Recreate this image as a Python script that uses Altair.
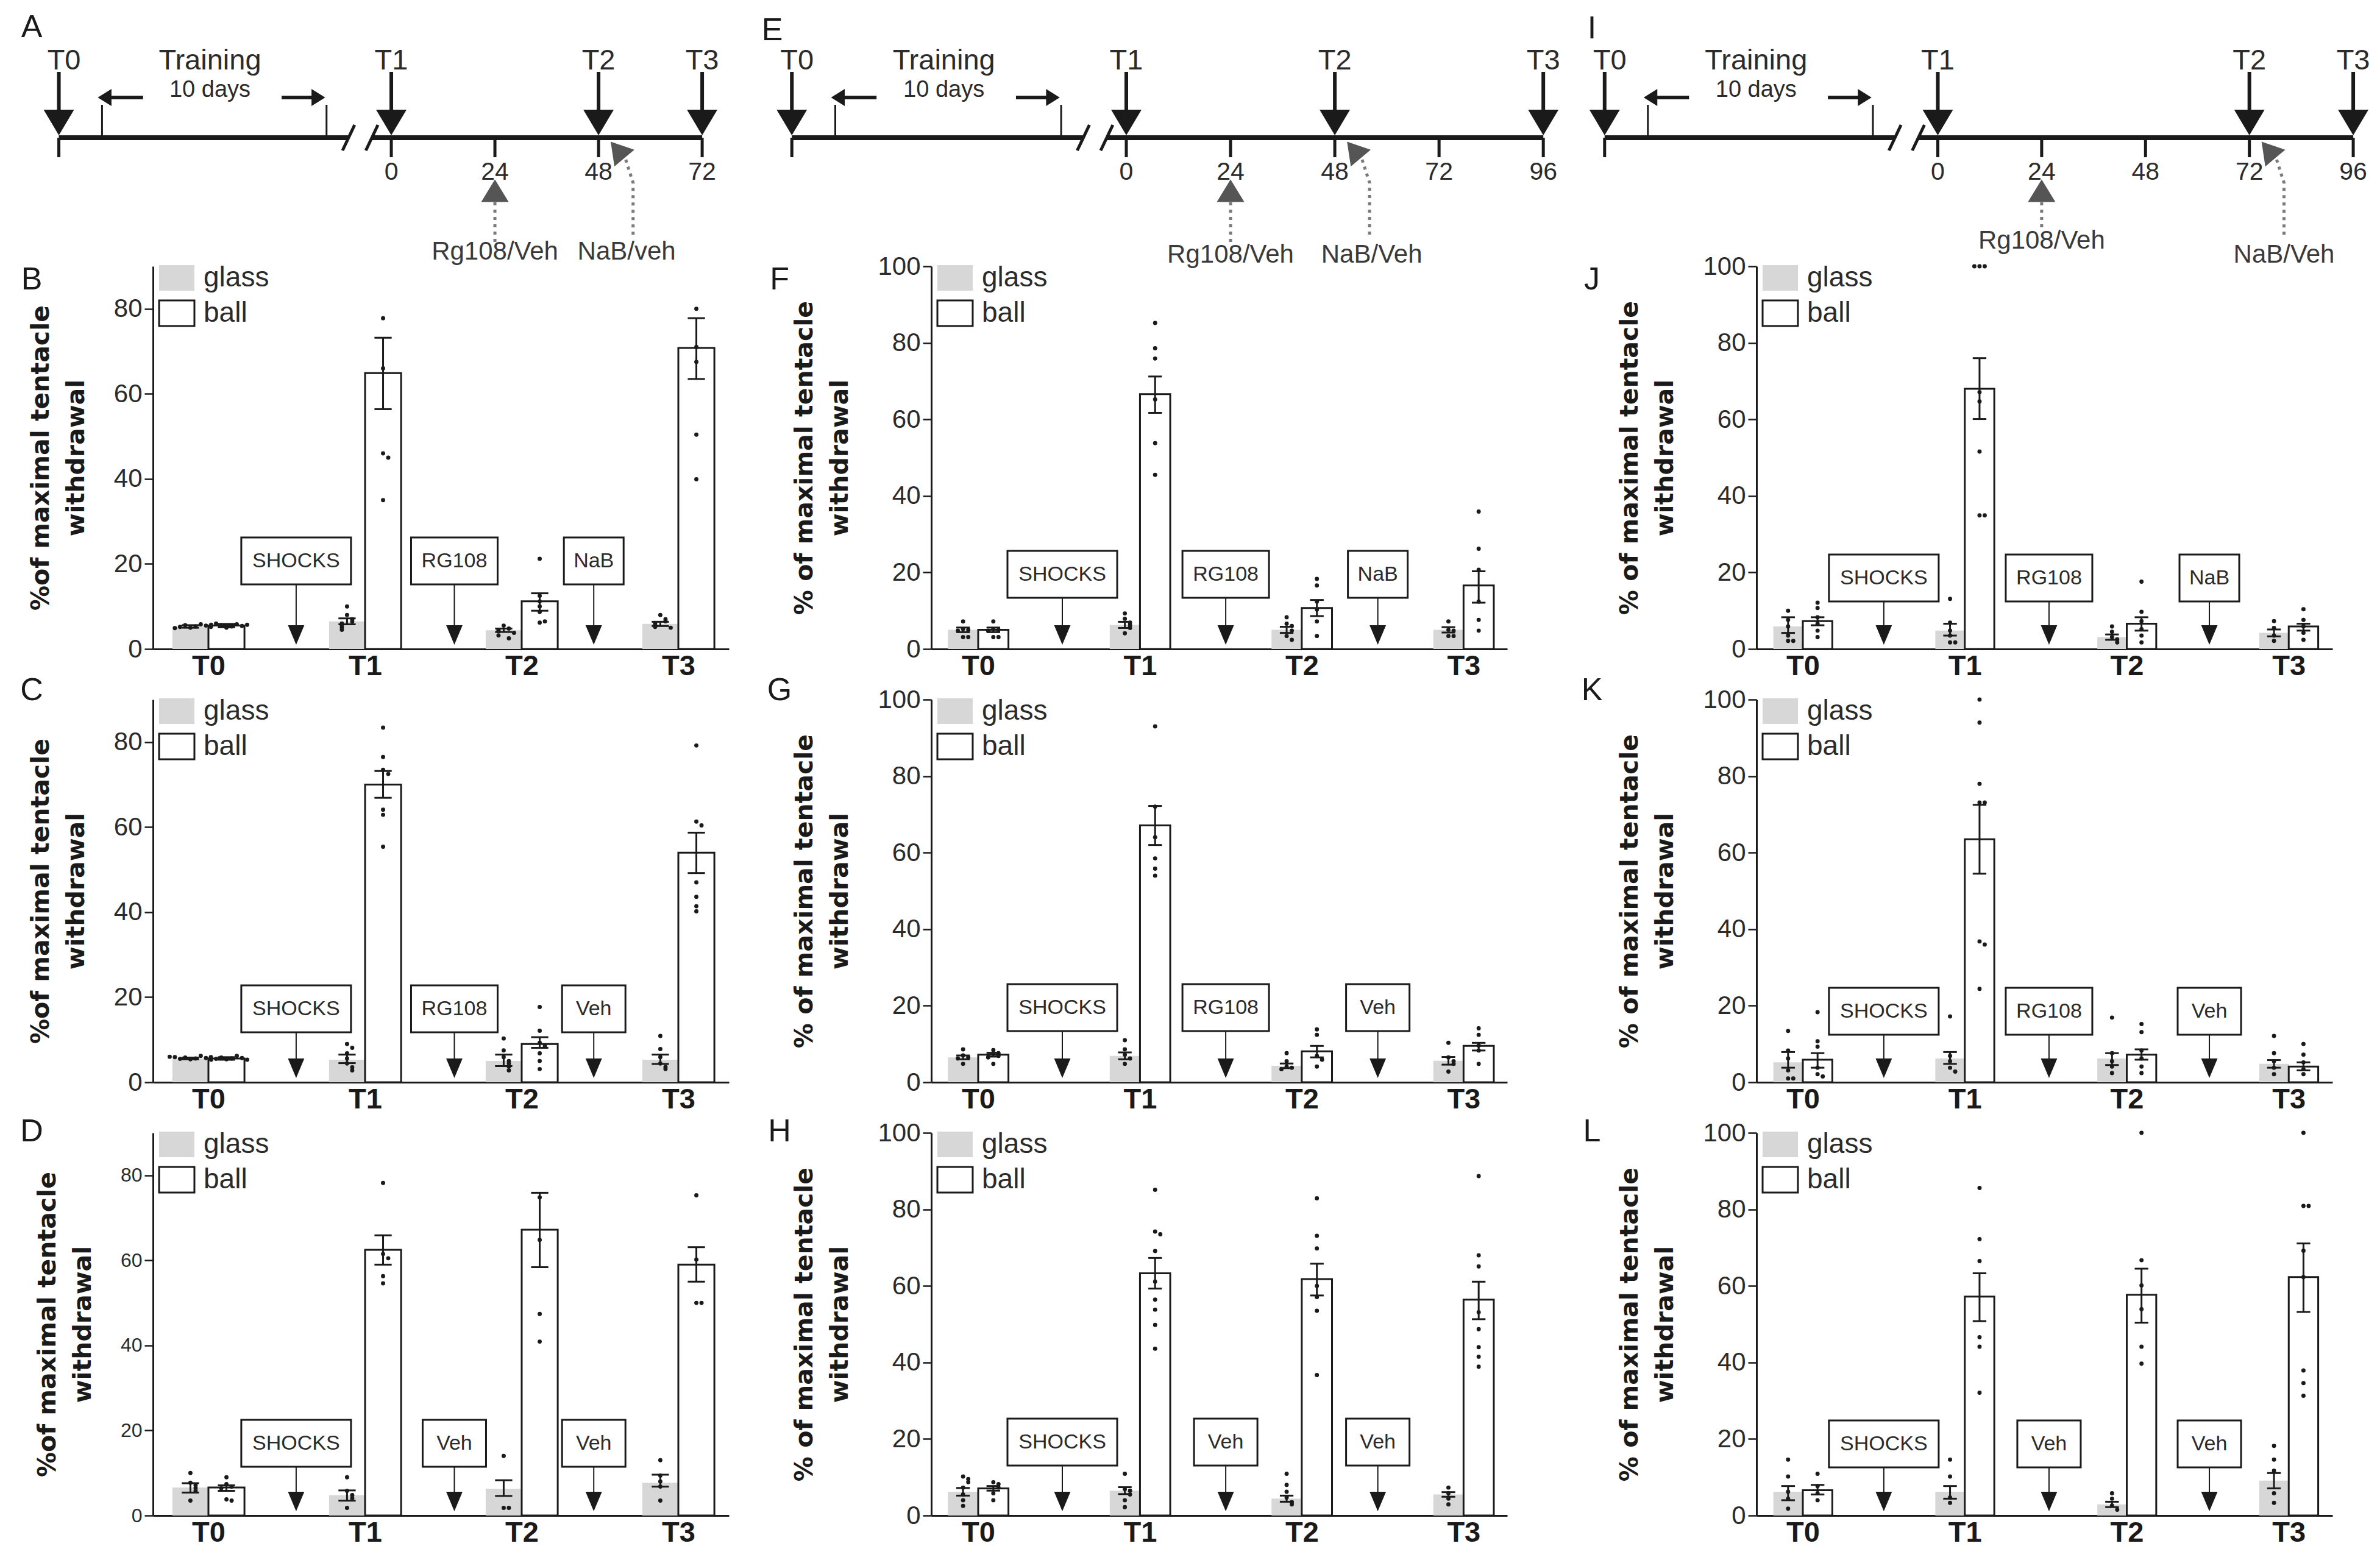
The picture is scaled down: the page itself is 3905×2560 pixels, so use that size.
import altair as alt
import pandas as pd

# ===================== DATA =====================
GROUPS = ["T0", "T1", "T2", "T3"]
SERIES = ["glass", "ball"]

# ---- Panel B ----
B_glass_mean = [5.3, 6.5, 4.4, 5.9]
B_glass_lo = [5.0, 5.8, 4.0, 5.4]
B_glass_hi = [5.6, 7.2, 4.8, 6.4]
B_ball_mean = [5.5, 64.9, 11.2, 70.8]
B_ball_lo = [5.1, 56.4, 9.0, 63.5]
B_ball_hi = [5.9, 73.2, 13.1, 77.8]
B_glass_dots = [[5.0, 5.3, 5.6, 5.8, 5.2, 5.5, 4.9, 5.7],
                [10.0, 8.0, 7.0, 6.5, 6.0, 5.5, 5.0, 4.5],
                [5.5, 4.8, 4.5, 4.2, 3.8, 3.2, 2.5],
                [8.0, 7.0, 6.5, 6.0, 5.5, 5.2, 5.0]]
B_ball_dots = [[5.0, 5.3, 5.6, 5.8, 6.0, 5.4, 5.2, 5.7],
               [77.8, 66.0, 46.0, 45.0, 35.0],
               [21.2, 12.5, 11.2, 10.0, 8.7, 6.2, 6.5],
               [80.0, 71.0, 67.5, 50.4, 39.9]]
B_boxes = ["SHOCKS", "RG108", "NaB"]

# ---- Panel C ----
C_glass_mean = [5.6, 5.3, 5.0, 5.3]
C_glass_lo = [5.4, 4.5, 3.8, 4.3]
C_glass_hi = [5.8, 6.5, 6.5, 6.5]
C_ball_mean = [5.6, 70.0, 9.0, 54.0]
C_ball_lo = [5.3, 66.9, 8.1, 49.2]
C_ball_hi = [5.9, 73.2, 10.6, 58.7]
C_glass_dots = [[5.4, 5.6, 5.8, 6.2, 5.5, 5.7, 5.9, 5.3, 6.0],
                [9.0, 8.1, 6.8, 5.6, 4.4, 3.5, 2.8],
                [10.3, 7.5, 5.9, 5.0, 4.4, 3.7, 2.8],
                [10.9, 7.8, 5.9, 4.4, 3.6, 3.1]]
C_ball_dots = [[5.4, 5.6, 5.8, 6.2, 5.5, 5.7, 5.9, 5.3],
               [83.4, 76.5, 73.5, 72.5, 64.1, 62.9, 55.4],
               [17.7, 12.1, 9.3, 8.5, 6.8, 5.0, 3.1],
               [79.2, 61.3, 60.4, 47.0, 43.6, 41.4, 40.2]]
C_boxes = ["SHOCKS", "RG108", "Veh"]

# ---- Panel D ----
D_glass_mean = [6.6, 4.8, 6.3, 7.7]
D_glass_lo = [5.4, 3.5, 4.6, 6.8]
D_glass_hi = [7.6, 5.9, 8.3, 9.6]
D_ball_mean = [6.6, 62.5, 67.2, 59.0]
D_ball_lo = [5.8, 59.0, 58.4, 55.0]
D_ball_hi = [7.1, 65.9, 75.9, 63.1]
D_glass_dots = [[10.0, 7.7, 7.1, 6.5, 5.8, 3.5],
                [9.0, 5.8, 4.8, 4.1, 1.8],
                [14.0, 1.8, 1.8],
                [13.0, 9.4, 8.0, 6.8, 3.5]]
D_ball_dots = [[9.0, 7.4, 6.8, 6.4, 3.8, 3.5],
               [78.2, 61.5, 60.5, 56.3, 54.6],
               [74.8, 64.8, 47.4, 40.9],
               [75.3, 60.2, 50.0, 50.0]]
D_boxes = ["SHOCKS", "Veh", "Veh"]

# ---- Panel F ----
F_glass_mean = [5.0, 6.3, 5.0, 5.0]
F_glass_lo = [4.4, 5.5, 4.2, 4.3]
F_glass_hi = [5.6, 7.1, 5.8, 5.7]
F_ball_mean = [5.0, 66.6, 10.7, 16.6]
F_ball_lo = [4.4, 61.7, 8.6, 12.1]
F_ball_hi = [5.6, 71.2, 12.8, 20.3]
F_glass_dots = [[7.2, 5.2, 5.0, 4.8, 3.1, 3.1],
                [9.3, 7.9, 6.9, 6.2, 5.5, 4.1],
                [8.3, 6.6, 6.0, 4.8, 3.4, 2.4],
                [7.2, 5.0, 4.8, 3.4, 3.4]]
F_ball_dots = [[7.2, 5.2, 5.0, 4.8, 3.1, 3.1],
               [85.2, 78.6, 75.9, 65.2, 53.8, 45.5],
               [18.3, 16.6, 12.4, 10.3, 7.2, 3.4],
               [35.9, 26.2, 20.7, 12.4, 7.6, 4.8]]
F_boxes = ["SHOCKS", "RG108", "NaB"]

# ---- Panel G ----
G_glass_mean = [6.5, 6.9, 4.3, 5.6]
G_glass_lo = [6.0, 6.0, 3.7, 4.6]
G_glass_hi = [7.0, 7.8, 4.9, 6.6]
G_ball_mean = [7.2, 67.1, 8.1, 9.5]
G_ball_lo = [6.7, 62.0, 6.5, 8.3]
G_ball_hi = [7.7, 72.2, 9.5, 10.3]
G_glass_dots = [[8.6, 7.0, 6.5, 6.2, 4.8],
                [11.0, 8.6, 7.2, 6.2, 4.8],
                [7.6, 5.5, 4.1, 3.8, 3.4],
                [10.3, 6.5, 5.5, 4.8, 2.8]]
G_ball_dots = [[8.4, 7.6, 6.9, 6.5, 4.8],
               [93.0, 72.0, 64.0, 58.5, 55.8, 54.0],
               [13.8, 12.4, 6.9, 5.9, 4.1],
               [14.1, 12.4, 9.6, 8.3, 4.8]]
G_boxes = ["SHOCKS", "RG108", "Veh"]

# ---- Panel H ----
H_glass_mean = [6.2, 6.5, 4.4, 5.5]
H_glass_lo = [5.2, 5.6, 3.6, 4.9]
H_glass_hi = [7.2, 7.4, 5.2, 6.1]
H_ball_mean = [7.1, 63.3, 61.8, 56.4]
H_ball_lo = [6.5, 59.3, 57.5, 51.3]
H_ball_hi = [7.7, 67.3, 65.8, 61.1]
H_glass_dots = [[10.2, 9.5, 8.7, 7.3, 5.5, 4.0, 2.5],
                [10.9, 6.9, 6.5, 5.5, 4.0, 2.2],
                [10.9, 8.0, 6.2, 4.7, 3.5, 2.9],
                [7.3, 5.8, 4.4, 2.9]]
H_ball_dots = [[8.7, 8.2, 7.3, 5.8, 4.0],
               [85.1, 74.2, 73.5, 69.1, 61.1, 56.4, 53.8, 49.8, 43.6],
               [82.9, 73.1, 69.8, 60.0, 57.1, 53.5, 36.7],
               [88.7, 68.0, 65.1, 53.1, 48.7, 44.0, 41.5, 38.9]]
H_boxes = ["SHOCKS", "Veh", "Veh"]

# ---- Panel J ----
J_glass_mean = [5.9, 4.8, 3.1, 4.2]
J_glass_lo = [4.2, 3.5, 2.4, 3.3]
J_glass_hi = [8.3, 6.6, 3.8, 5.1]
J_ball_mean = [7.3, 68.0, 6.6, 5.9]
J_ball_lo = [6.2, 60.1, 4.8, 4.8]
J_ball_hi = [8.3, 76.0, 8.3, 6.6]
J_glass_dots = [[10.0, 7.6, 5.9, 3.5, 2.1, 2.1],
                [13.1, 6.9, 4.8, 3.5, 1.7, 1.7],
                [5.9, 4.5, 3.1, 2.5, 1.7],
                [7.3, 5.5, 3.5, 2.1]]
J_ball_dots = [[12.1, 10.7, 8.3, 6.6, 4.8, 3.1],
               [100.0, 100.0, 100.0, 67.1, 64.7, 51.6, 34.9, 34.9],
               [17.6, 9.7, 7.3, 5.2, 3.5, 1.7],
               [10.4, 7.6, 5.9, 4.2, 2.4]]
J_boxes = ["SHOCKS", "RG108", "NaB"]

# ---- Panel K ----
K_glass_mean = [5.2, 6.2, 6.2, 4.8]
K_glass_lo = [3.8, 4.8, 4.5, 3.8]
K_glass_hi = [7.9, 7.9, 7.6, 5.8]
K_ball_mean = [5.9, 63.5, 7.2, 4.1]
K_ball_lo = [3.8, 54.5, 5.9, 3.1]
K_ball_hi = [7.6, 72.5, 8.6, 5.2]
K_glass_dots = [[13.4, 8.3, 6.2, 3.1, 1.0, 1.0],
                [17.2, 6.9, 5.5, 3.8, 2.8],
                [16.9, 7.6, 5.5, 4.1, 2.4],
                [12.1, 7.6, 5.5, 3.8, 2.1]]
K_ball_dots = [[18.3, 10.7, 9.3, 3.8, 2.1, 1.5],
               [100.0, 94.0, 78.0, 73.1, 73.1, 36.8, 36.0, 24.4],
               [15.2, 13.1, 8.3, 6.2, 4.1, 2.4],
               [10.0, 7.2, 5.2, 3.4, 2.1]]
K_boxes = ["SHOCKS", "RG108", "Veh"]

# ---- Panel L ----
L_glass_mean = [6.2, 6.2, 2.9, 9.1]
L_glass_lo = [4.0, 4.4, 2.2, 7.1]
L_glass_hi = [7.7, 7.7, 3.6, 11.1]
L_ball_mean = [6.6, 57.2, 57.7, 62.3]
L_ball_lo = [5.5, 50.8, 50.4, 53.2]
L_ball_hi = [8.0, 63.3, 64.5, 71.1]
L_glass_dots = [[14.6, 10.2, 6.2, 4.4, 1.8],
                [14.6, 10.2, 4.7, 3.3],
                [5.8, 4.4, 2.6, 1.5],
                [18.2, 14.6, 11.7, 5.8, 3.3]]
L_ball_dots = [[10.9, 7.7, 5.8, 4.0],
               [85.6, 72.2, 66.5, 46.6, 44.1, 32.1],
               [100.0, 66.7, 60.1, 53.9, 44.1, 39.7],
               [100.0, 80.9, 80.9, 69.2, 62.3, 37.9, 34.6, 31.3]]
L_boxes = ["SHOCKS", "Veh", "Veh"]

# ---- Timelines (hours after training; T0 precedes the 10-day training) ----
TL_T_LABELS = ["T0", "T1", "T2", "T3"]
A_T_hours = [-77, 0, 48, 72]
E_T_hours = [-77, 0, 48, 96]
I_T_hours = [-77, 0, 72, 96]
A_hour_ticks = [0, 24, 48, 72]
E_hour_ticks = [0, 24, 48, 72, 96]
I_hour_ticks = [0, 24, 48, 72, 96]
TRAINING_EDGES = [-67, -15]
RG_HOUR = 24
RG_LABEL = "Rg108/Veh"
NAB_LABELS = ["NaB/veh", "NaB/Veh", "NaB/Veh"]

# ===================== STYLE =====================
FONT = "Liberation Sans"
TFONT = "DejaVu Sans"
INK = "#1a1a1a"
TXT = "#2b2b2b"
GLASS = "#d7d7d7"
PLOT_W, PLOT_H = 945, 628
RECT_PATH = "M-1.38,-1H1.38V1H-1.38Z"
TRI_DOWN_SMALL = "M-0.84,-1L0.84,-1L0,1Z"
TRI_DOWN_BIG = "M-1.19,-1L1.19,-1L0,1Z"
TRI_UP = "M0,-1L1.22,1L-1.22,1Z"
TRI_LEFT = "M-0.8,0L0.8,-1L0.8,1Z"
TRI_RIGHT = "M0.8,0L-0.8,-1L-0.8,1Z"
BOX_W = {"SHOCKS": 180, "RG108": 142, "NaB": 98, "Veh": 104}
BOX_H = 77

COLS = [
    dict(xdom=[-0.354, 3.323], gap=257.0, bw=0.23, cap=0.055,
         ytitle=["%of maximal tentacle", "withdrawal"], letter_dx=-199,
         box_cx=[0.56, 1.57, 2.46]),
    dict(xdom=[-0.29, 3.27], gap=265.4, bw=0.187, cap=0.042,
         ytitle=["% of maximal tentacle", "withdrawal"], letter_dx=-249,
         box_cx=[0.52, 1.53, 2.47]),
    dict(xdom=[-0.286, 3.27], gap=265.7, bw=0.182, cap=0.042,
         ytitle=["% of maximal tentacle", "withdrawal"], letter_dx=-270,
         box_cx=[0.50, 1.52, 2.51]),
]


def mk(letter, gm, glo, ghi, bm, blo, bhi, gd, bd, boxes, ymax, box_px, tick_fs, letter_dy):
    return dict(letter=letter, gm=gm, glo=glo, ghi=ghi, bm=bm, blo=blo, bhi=bhi,
                gd=gd, bd=bd, boxes=boxes, ymax=ymax, box_px=box_px,
                tick_fs=tick_fs, letter_dy=letter_dy)


PANELS = [
    [mk("B", B_glass_mean, B_glass_lo, B_glass_hi, B_ball_mean, B_ball_lo, B_ball_hi,
        B_glass_dots, B_ball_dots, B_boxes, 90, 106, 42, 22),
     mk("C", C_glass_mean, C_glass_lo, C_glass_hi, C_ball_mean, C_ball_lo, C_ball_hi,
        C_glass_dots, C_ball_dots, C_boxes, 90, 82, 42, -15),
     mk("D", D_glass_mean, D_glass_lo, D_glass_hi, D_ball_mean, D_ball_lo, D_ball_hi,
        D_glass_dots, D_ball_dots, D_boxes, 90, 80, 32, -2)],
    [mk("F", F_glass_mean, F_glass_lo, F_glass_hi, F_ball_mean, F_ball_lo, F_ball_hi,
        F_glass_dots, F_ball_dots, F_boxes, 100, 84, 42, 22),
     mk("G", G_glass_mean, G_glass_lo, G_glass_hi, G_ball_mean, G_ball_lo, G_ball_hi,
        G_glass_dots, G_ball_dots, G_boxes, 100, 84, 42, -15),
     mk("H", H_glass_mean, H_glass_lo, H_glass_hi, H_ball_mean, H_ball_lo, H_ball_hi,
        H_glass_dots, H_ball_dots, H_boxes, 100, 82, 42, -2)],
    [mk("J", J_glass_mean, J_glass_lo, J_glass_hi, J_ball_mean, J_ball_lo, J_ball_hi,
        J_glass_dots, J_ball_dots, J_boxes, 100, 78, 42, 22),
     mk("K", K_glass_mean, K_glass_lo, K_glass_hi, K_ball_mean, K_ball_lo, K_ball_hi,
        K_glass_dots, K_ball_dots, K_boxes, 100, 78, 42, -15),
     mk("L", L_glass_mean, L_glass_lo, L_glass_hi, L_ball_mean, L_ball_lo, L_ball_hi,
        L_glass_dots, L_ball_dots, L_boxes, 100, 79, 42, -2)],
]

TIMELINES = [
    dict(letter="A", T=A_T_hours, hours=A_hour_ticks, dom=[-55.2, 78.2], width=945,
         rg_end=397, rg_y=413, nab=NAB_LABELS[0], nab_dx=6.5, nab_y=413,
         letter_dx=-199, letter_dy=32),
    dict(letter="E", T=E_T_hours, hours=E_hour_ticks, dom=[-44.9, 98.5], width=1022,
         rg_end=397, rg_y=418, nab=NAB_LABELS[1], nab_dx=8.5, nab_y=418,
         letter_dx=-261, letter_dy=37),
    dict(letter="I", T=I_T_hours, hours=I_hour_ticks, dom=[-41.9, 91.2], width=945,
         rg_end=373, rg_y=395, nab=NAB_LABELS[2], nab_dx=8.0, nab_y=418,
         letter_dx=-270, letter_dy=34),
]

TL_TOP, TL_BOT = 13, 354
LINE_Y = 226


def swarm(values, pxu, step):
    placed, offs = [], []
    for v in values:
        k = sum(1 for q in placed if abs(q - v) * pxu < 8)
        offs.append(0.0 if k == 0 else ((k + 1) // 2) * step * (1 if k % 2 else -1))
        placed.append(v)
    return offs


def letter_layer(letter, dx, dy):
    return alt.Chart(pd.DataFrame({"t": [letter]})).mark_text(
        font=FONT, fontSize=52, color=INK, align="center", baseline="middle"
    ).encode(text="t:N", x=alt.value(dx), y=alt.value(dy))


def bar_panel(p, c):
    ymax = p["ymax"]
    pxu = PLOT_H / ymax
    gx, bw = c["gap"], c["bw"]
    rows_bar, rows_err, rows_dot = [], [], []
    for g in range(4):
        for s, mean, lo, hi, dots in (("glass", p["gm"][g], p["glo"][g], p["ghi"][g], p["gd"][g]),
                                      ("ball", p["bm"][g], p["blo"][g], p["bhi"][g], p["bd"][g])):
            x0 = g - bw if s == "glass" else g
            x1 = g if s == "glass" else g + bw
            xc = (x0 + x1) / 2
            rows_bar.append(dict(series=s, x0=x0, x1=x1, mean=mean, zero=0.0))
            rows_err.append(dict(xc=xc, lo=lo, hi=hi, xl=xc - c["cap"], xr=xc + c["cap"]))
            for v, o in zip(dots, swarm(dots, pxu, 8.5 / gx)):
                rows_dot.append(dict(x=xc + o, y=v))
    rows_box = []
    for i, lab in enumerate(p["boxes"]):
        cx = c["box_cx"][i]
        hw = BOX_W[lab] / 2 / gx
        y0 = p["box_px"] / pxu
        y1 = (p["box_px"] + BOX_H) / pxu
        rows_box.append(dict(label=lab, cx=cx, x0=cx - hw, x1=cx + hw, y0=y0, y1=y1,
                             ym=(y0 + y1) / 2, yh=39 / pxu, ytri=23 / pxu))
    bar_df, err_df = pd.DataFrame(rows_bar), pd.DataFrame(rows_err)
    dot_df, box_df = pd.DataFrame(rows_dot), pd.DataFrame(rows_box)

    xs = alt.Scale(domain=c["xdom"], nice=False, zero=False)
    ys = alt.Scale(domain=[0, ymax], nice=False)
    tick_vals = [0, 20, 40, 60, 80] if ymax < 100 else [0, 20, 40, 60, 80, 100]
    xaxis = alt.Axis(values=[0, 1, 2, 3], labelExpr="'T' + datum.value", ticks=False, grid=False,
                     domainWidth=3, domainColor=INK, labelFont=FONT, labelFontSize=47,
                     labelFontWeight="bold", labelColor=INK, labelPadding=5, title=None,
                     labelFlush=False)
    yaxis = alt.Axis(values=tick_vals, grid=False, domainWidth=3, domainColor=INK, tickColor=INK,
                     tickWidth=2.5, tickSize=14, labelFont=FONT, labelFontSize=p["tick_fs"],
                     labelColor=TXT, labelPadding=4, title=c["ytitle"], titleFont=TFONT,
                     titleFontSize=41, titleFontWeight="bold", titleColor=INK,
                     titleLineHeight=58, titlePadding=40)
    leg = alt.Legend(title=None, orient="none", legendX=16, legendY=-4, symbolType=RECT_PATH,
                     symbolSize=1764, symbolStrokeWidth=3, labelFont=FONT, labelFontSize=46,
                     labelColor=TXT, labelOffset=21, rowPadding=4, padding=0)

    # every layer carries the same axis definition so the shared axes merge cleanly
    def X(f):
        return alt.X(f, scale=xs, axis=xaxis)

    def Y(f):
        return alt.Y(f, scale=ys, axis=yaxis)

    bars = alt.Chart(bar_df).mark_rect(strokeWidth=3).encode(
        x=X("x0:Q"), x2="x1:Q",
        y=Y("mean:Q"), y2="zero:Q",
        fill=alt.Fill("series:N", scale=alt.Scale(domain=SERIES, range=[GLASS, "#ffffff"]), legend=leg),
        stroke=alt.Stroke("series:N", scale=alt.Scale(domain=SERIES, range=["transparent", INK]), legend=leg),
    )
    err_v = alt.Chart(err_df).mark_rule(color=INK, strokeWidth=3).encode(x=X("xc:Q"), y=Y("lo:Q"), y2="hi:Q")
    cap_hi = alt.Chart(err_df).mark_rule(color=INK, strokeWidth=3).encode(x=X("xl:Q"), x2="xr:Q", y=Y("hi:Q"))
    cap_lo = alt.Chart(err_df).mark_rule(color=INK, strokeWidth=3).encode(x=X("xl:Q"), x2="xr:Q", y=Y("lo:Q"))
    dots = alt.Chart(dot_df).mark_circle(size=48, color=INK, opacity=1).encode(x=X("x:Q"), y=Y("y:Q"))
    box = alt.Chart(box_df).mark_rect(fill="white", stroke=INK, strokeWidth=3).encode(
        x=X("x0:Q"), x2="x1:Q", y=Y("y0:Q"), y2="y1:Q")
    box_txt = alt.Chart(box_df).mark_text(font=FONT, fontSize=34, color=TXT, align="center",
                                          baseline="middle").encode(x=X("cx:Q"), y=Y("ym:Q"), text="label:N")
    arr_line = alt.Chart(box_df).mark_rule(color=INK, strokeWidth=2).encode(x=X("cx:Q"), y=Y("yh:Q"), y2="y0:Q")
    arr_head = alt.Chart(box_df).mark_point(shape=TRI_DOWN_SMALL, size=1024, filled=True, color=INK,
                                            opacity=1, strokeWidth=0).encode(x=X("cx:Q"), y=Y("ytri:Q"))
    lt = letter_layer(p["letter"], c["letter_dx"], p["letter_dy"])
    return alt.layer(bars, err_v, cap_hi, cap_lo, dots, box, box_txt, arr_line, arr_head, lt).properties(
        width=PLOT_W, height=PLOT_H)


def timeline(t):
    xs = alt.Scale(domain=t["dom"], nice=False, zero=False)
    ys = alt.Scale(domain=[TL_TOP, TL_BOT], reverse=True, nice=False, zero=False)

    def X(f):
        return alt.X(f, scale=xs, axis=None)

    def Y(f):
        return alt.Y(f, scale=ys, axis=None)

    T, hrs = t["T"], t["hours"]
    t0, t2, t3 = T[0], T[2], T[3]
    brk = (-9.9, -4.5)
    layers = []
    line_df = pd.DataFrame({"x": [t0, brk[1]], "x2": [brk[0], t3], "y": [LINE_Y, LINE_Y]})
    layers.append(alt.Chart(line_df).mark_rule(strokeWidth=8, color=INK).encode(x=X("x:Q"), x2="x2:Q", y=Y("y:Q")))
    sh = pd.DataFrame({"x": T, "y": [118] * 4, "y2": [184] * 4, "lab": TL_T_LABELS,
                       "xl": [T[0] + 1.2] + T[1:], "hy": [201] * 4, "ly": [100] * 4})
    layers.append(alt.Chart(sh).mark_rule(strokeWidth=6, color=INK).encode(x=X("x:Q"), y=Y("y:Q"), y2="y2:Q"))
    layers.append(alt.Chart(sh).mark_point(shape=TRI_DOWN_BIG, size=1764, filled=True, color=INK,
                                           opacity=1, strokeWidth=0).encode(x=X("x:Q"), y=Y("hy:Q")))
    layers.append(alt.Chart(sh).mark_text(font=FONT, fontSize=47, color=TXT, align="center",
                                          baseline="middle").encode(x=X("xl:Q"), y=Y("ly:Q"), text="lab:N"))
    tick_x = sorted(set(T + hrs))
    tk = pd.DataFrame({"x": tick_x, "y": [LINE_Y] * len(tick_x), "y2": [258] * len(tick_x)})
    layers.append(alt.Chart(tk).mark_rule(strokeWidth=5, color=INK).encode(x=X("x:Q"), y=Y("y:Q"), y2="y2:Q"))
    hl = pd.DataFrame({"x": hrs, "y": [283] * len(hrs), "lab": [str(h) for h in hrs]})
    layers.append(alt.Chart(hl).mark_text(font=FONT, fontSize=41, color=TXT, align="center",
                                          baseline="middle").encode(x=X("x:Q"), y=Y("y:Q"), text="lab:N"))
    tr = pd.DataFrame({"x": TRAINING_EDGES, "y": [172, 172], "y2": [LINE_Y, LINE_Y]})
    layers.append(alt.Chart(tr).mark_rule(strokeWidth=3, color=INK).encode(x=X("x:Q"), y=Y("y:Q"), y2="y2:Q"))
    ta = pd.DataFrame({"x": [-57.5, -25.4], "x2": [-66.0, -17.0], "y": [160, 160]})
    layers.append(alt.Chart(ta).mark_rule(strokeWidth=6, color=INK).encode(x=X("x:Q"), x2="x2:Q", y=Y("y:Q")))
    layers.append(alt.Chart(pd.DataFrame({"x": [-66.4], "y": [160]})).mark_point(
        shape=TRI_LEFT, size=784, filled=True, color=INK, opacity=1, strokeWidth=0).encode(x=X("x:Q"), y=Y("y:Q")))
    layers.append(alt.Chart(pd.DataFrame({"x": [-16.9], "y": [160]})).mark_point(
        shape=TRI_RIGHT, size=784, filled=True, color=INK, opacity=1, strokeWidth=0).encode(x=X("x:Q"), y=Y("y:Q")))
    tt = pd.DataFrame({"x": [-42.0, -42.0], "y": [100, 148], "lab": ["Training", "10 days"]})
    layers.append(alt.Chart(tt.iloc[[0]]).mark_text(font=FONT, fontSize=47, color=TXT, align="center",
                                                    baseline="middle").encode(x=X("x:Q"), y=Y("y:Q"), text="lab:N"))
    layers.append(alt.Chart(tt.iloc[[1]]).mark_text(font=FONT, fontSize=38, color=TXT, align="center",
                                                    baseline="middle").encode(x=X("x:Q"), y=Y("y:Q"), text="lab:N"))
    sl = pd.DataFrame({"x": [-11.3, -5.9], "x2": [-8.5, -3.1], "y": [247, 247], "y2": [205, 205]})
    layers.append(alt.Chart(sl).mark_rule(strokeWidth=5, color=INK).encode(x=X("x:Q"), x2="x2:Q", y=Y("y:Q"), y2="y2:Q"))
    # RG108 / vehicle injection
    rg = pd.DataFrame({"x": [RG_HOUR], "hy": [313], "y": [332], "y2": [t["rg_end"]], "ly": [t["rg_y"]], "lab": [RG_LABEL]})
    layers.append(alt.Chart(rg).mark_point(shape=TRI_UP, size=1369, filled=True, color="#555555",
                                           opacity=1, strokeWidth=0).encode(x=X("x:Q"), y=Y("hy:Q")))
    layers.append(alt.Chart(rg).mark_rule(strokeWidth=5, color="#7a7a7a", strokeDash=[5, 7]).encode(
        x=X("x:Q"), y=Y("y:Q"), y2="y2:Q"))
    layers.append(alt.Chart(rg).mark_text(font=FONT, fontSize=42, color="#3a3a3a", align="center",
                                          baseline="middle").encode(x=X("x:Q"), y=Y("ly:Q"), text="lab:N"))
    # NaB / vehicle injection
    nab_head = pd.DataFrame({"x": [t2 + 4.4], "y": [246]})
    layers.append(alt.Chart(nab_head).mark_point(shape=TRI_UP, size=1225, angle=320, filled=True,
                                                 color="#555555", opacity=1, strokeWidth=0).encode(x=X("x:Q"), y=Y("y:Q")))
    nab_path = pd.DataFrame({"x": [t2 + 6.3, t2 + 8.0, t2 + 8.0], "y": [262, 300, 392], "o": [0, 1, 2]})
    layers.append(alt.Chart(nab_path).mark_line(strokeWidth=5, color="#7a7a7a", strokeDash=[5, 7]).encode(
        x=X("x:Q"), y=Y("y:Q"), order="o:Q"))
    nl = pd.DataFrame({"x": [t2 + t["nab_dx"]], "y": [t["nab_y"]], "lab": [t["nab"]]})
    layers.append(alt.Chart(nl).mark_text(font=FONT, fontSize=42, color="#3a3a3a", align="center",
                                          baseline="middle").encode(x=X("x:Q"), y=Y("y:Q"), text="lab:N"))
    layers.append(letter_layer(t["letter"], t["letter_dx"], t["letter_dy"]))
    return alt.layer(*layers).properties(width=t["width"], height=TL_BOT - TL_TOP)


# grid, row-major: timelines, then the three rows of bar panels
views = [timeline(TIMELINES[ci]) for ci in range(3)]
for ri in range(3):
    for ci in range(3):
        views.append(bar_panel(PANELS[ci][ri], COLS[ci]))

chart = alt.concat(*views, columns=3, spacing={"row": 83, "column": 332}, bounds="flush").resolve_scale(
    x="independent", y="independent", fill="independent", stroke="independent"
).resolve_legend(fill="independent", stroke="independent").properties(
    padding={"left": 25, "top": 5, "right": 5, "bottom": 5}, background="white"
).configure_view(strokeWidth=0)

chart.save("out.html", embed_options={"renderer": "svg", "actions": False})
